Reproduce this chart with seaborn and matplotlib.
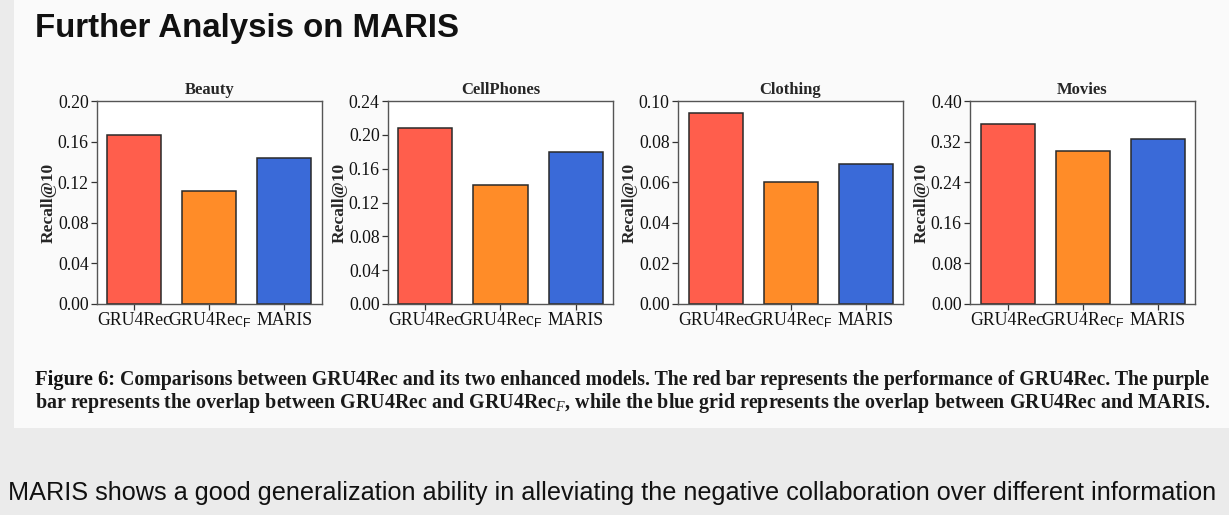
import matplotlib
matplotlib.use("Agg")
import matplotlib.pyplot as plt
import seaborn as sns
import pandas as pd
from matplotlib.patches import Rectangle
from matplotlib.ticker import FixedLocator

sns.set_style("ticks")
plt.rcParams['font.family'] = ['Liberation Serif', 'DejaVu Serif']
plt.rcParams['mathtext.fontset'] = 'custom'
plt.rcParams['mathtext.rm'] = 'Liberation Serif'
plt.rcParams['mathtext.it'] = 'Liberation Serif:italic'
plt.rcParams['mathtext.sf'] = 'Liberation Sans'

# ---- data ----
datasets = ["Beauty", "CellPhones", "Clothing", "Movies"]
models = ["GRU4Rec", "GRU4Rec$_\\mathsf{F}$", "MARIS"]
beauty = [0.1665, 0.1110, 0.1435]
cellphones = [0.2075, 0.1410, 0.1800]
clothing = [0.0942, 0.0600, 0.0688]
movies = [0.3540, 0.3010, 0.3250]
values = [beauty, cellphones, clothing, movies]
ymax = [0.20, 0.24, 0.10, 0.40]
yticks = [
    [0.00, 0.04, 0.08, 0.12, 0.16, 0.20],
    [0.00, 0.04, 0.08, 0.12, 0.16, 0.20, 0.24],
    [0.00, 0.02, 0.04, 0.06, 0.08, 0.10],
    [0.00, 0.08, 0.16, 0.24, 0.32, 0.40],
]
colors = ["#FF5E4C", "#FF8C28", "#3A6AD8"]

W, H = 1229, 515
fig = plt.figure(figsize=(W / 100, H / 100), dpi=100, facecolor="#ebebeb")
bg = Rectangle((14 / W, 1 - 428 / H), 1, 428 / H, transform=fig.transFigure,
               facecolor="#fafafa", edgecolor="none", zorder=-5)
fig.add_artist(bg)

lefts = [97, 388, 678, 970]
for i, name in enumerate(datasets):
    ax = fig.add_axes([lefts[i] / W, 1 - 304 / H, 225 / W, 203 / H])
    ax.set_zorder(2)
    df = pd.DataFrame({"model": models, "value": values[i]})
    sns.barplot(data=df, x="model", y="value", hue="model", palette=colors,
                width=0.72, edgecolor="#2a2a2a", linewidth=1.1, legend=False,
                ax=ax, saturation=1)
    ax.set_xlim(-0.5, 2.5)
    ax.set_ylim(0, ymax[i])
    ax.yaxis.set_major_locator(FixedLocator(yticks[i]))
    ax.set_yticklabels([f"{t:.2f}" for t in yticks[i]])
    ax.set_xlabel("")
    ax.set_ylabel("Recall@10", fontsize=12.5, fontweight="bold", labelpad=1)
    ax.set_title(name, fontsize=12, fontweight="bold", pad=5)
    ax.tick_params(axis="both", labelsize=12.8, length=4, width=0.9, colors="#333333",
                   labelcolor="#111111", pad=2)
    ax.tick_params(axis="x", pad=11.3)
    for lab in ax.get_xticklabels():
        lab.set_verticalalignment("baseline")
    for sp in ax.spines.values():
        sp.set_visible(True)
        sp.set_color("#555555")
        sp.set_linewidth(1.0)
    ax.set_facecolor("white")

fig.text(35 / W, 1 - 37 / H, "Further Analysis on MARIS", fontsize=23.8, fontweight="bold",
         family="Liberation Sans", color="#111111", ha="left", va="baseline")

cap1 = ("Comparisons between GRU4Rec and its two enhanced models. The red bar represents "
        "the performance of GRU4Rec. The purple")
cap2 = ("bar represents the overlap between GRU4Rec and GRU4Rec$_F$, while the blue grid "
        "represents the overlap between GRU4Rec and MARIS.")
t = fig.text(35 / W, 1 - 385 / H, "Figure 6: ", fontsize=14.8, fontweight="bold",
             color="#111111", ha="left", va="baseline")
fig.canvas.draw()
bb = t.get_window_extent()
fig.text(bb.x1 / W, 1 - 385 / H, cap1, fontsize=14.3, fontweight="bold",
         color="#1a1a1a", ha="left", va="baseline")
fig.text(35 / W, 1 - 408 / H, cap2, fontsize=14.4, fontweight="bold",
         color="#1a1a1a", ha="left", va="baseline")

fig.text(8 / W, 1 - 500 / H,
         "MARIS shows a good generalization ability in alleviating the negative collaboration over different information",
         fontsize=18.2, family="Liberation Sans", color="#111111", ha="left", va="baseline")

fig.savefig("out.png", dpi=100, facecolor=fig.get_facecolor())
